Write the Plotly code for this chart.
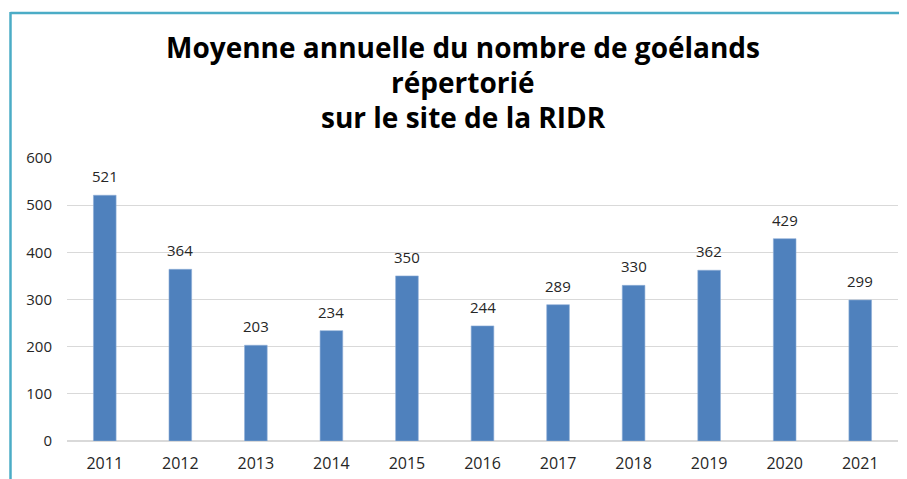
import plotly.graph_objects as go

years = ["2011", "2012", "2013", "2014", "2015", "2016", "2017", "2018", "2019", "2020", "2021"]
values = [521, 364, 203, 234, 350, 244, 289, 330, 362, 429, 299]
title_lines = ["Moyenne annuelle du nombre de goélands", "répertorié", "sur le site de la RIDR"]

# page body has an 8px margin: the figure is drawn at (8, 8)
O = 8
W, H = 907 - O, 479 - O
L, R, T, B = 67 - O, 9, 158 - O, 38
PW, PH = W - L - R, H - T - B


def px_x(x):
    return (x - O - L) / PW


def px_y(y):
    return (H - B - (y - O)) / PH


fig = go.Figure()
fig.add_trace(go.Bar(
    x=years, y=values,
    marker=dict(color="#4F81BD", line=dict(color="#8FAED6", width=0.6)),
    width=0.3,
    hoverinfo="x+y",
))

annotations = []
for i, v in enumerate(values):
    annotations.append(dict(
        x=i, y=v, xref="x", yref="y", text=str(v), showarrow=False,
        yanchor="bottom", yshift=7,
        font=dict(family="Open Sans", size=15, color="#262626"),
    ))

title_y = [47, 82, 117]
for txt, ty in zip(title_lines, title_y):
    annotations.append(dict(
        x=px_x(463), y=px_y(ty), xref="paper", yref="paper", text=txt,
        showarrow=False, xanchor="center", yanchor="middle",
        font=dict(family="Open Sans", size=28, color="#000000", weight="bold"),
    ))

shapes = [
    dict(type="line", xref="paper", yref="paper",
         x0=px_x(10.5), x1=px_x(910), y0=px_y(13), y1=px_y(13),
         line=dict(color="#4BACC6", width=2.5)),
    dict(type="line", xref="paper", yref="paper",
         x0=px_x(10.5), x1=px_x(10.5), y0=px_y(12), y1=px_y(482),
         line=dict(color="#4BACC6", width=2.5)),
]

fig.update_layout(
    width=W, height=H,
    margin=dict(l=L, r=R, t=T, b=B, autoexpand=False),
    paper_bgcolor="white", plot_bgcolor="white",
    showlegend=False,
    annotations=annotations,
    shapes=shapes,
    font=dict(family="Open Sans", color="#404040"),
    xaxis=dict(
        type="category", range=[-0.5, len(years) - 0.5], autorange=False,
        showgrid=False, showline=False, zeroline=False,
        tickfont=dict(family="Open Sans", size=16, color="#262626"),
        ticks="", ticklabelstandoff=11,
    ),
    yaxis=dict(
        range=[0, 600], autorange=False, dtick=100, showgrid=True,
        gridcolor="#D9D9D9", gridwidth=1,
        zeroline=True, zerolinecolor="#D9D9D9", zerolinewidth=1.5, showline=False,
        tickfont=dict(family="Open Sans", size=15, color="#262626"),
        ticks="", ticklabelstandoff=14,
    ),
)

fig.write_html("out.html")
